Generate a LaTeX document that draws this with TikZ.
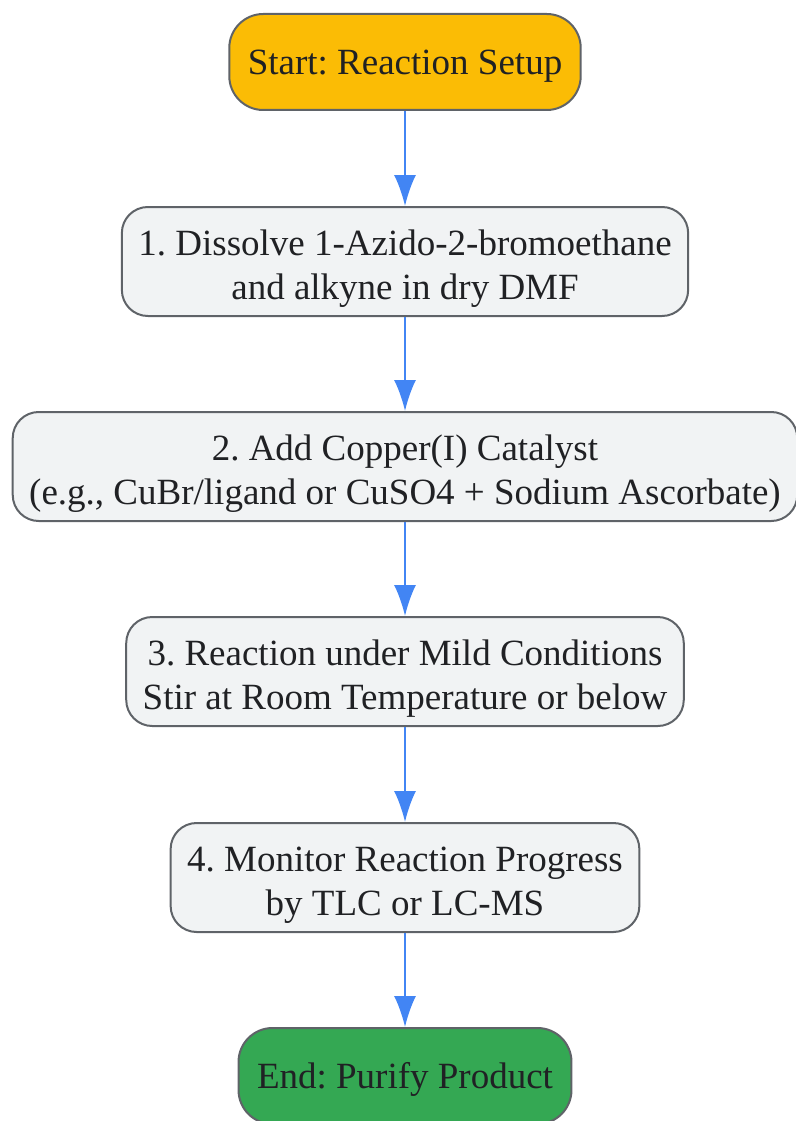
\documentclass[tikz,border=0pt]{standalone}
\usepackage{fontspec}
\setmainfont{Liberation Serif}
\usepackage{tikz}
\usetikzlibrary{positioning,arrows.meta}
\definecolor{startcol}{HTML}{FBBC05}
\definecolor{endcol}{HTML}{34A853}
\definecolor{stepcol}{HTML}{F1F3F4}
\definecolor{bordercol}{HTML}{5F6368}
\definecolor{arrowcol}{HTML}{4285F4}
\definecolor{textcol}{HTML}{202124}
\frenchspacing

\begin{document}
\begin{tikzpicture}[x=1pt,y=1pt,
    base node/.style={draw=bordercol,line width=2pt,text=textcol,align=center,
      font=\fontsize{37}{44}\selectfont,inner xsep=16.5pt,inner ysep=0pt},
    term node/.style={base node,rounded corners=34pt,minimum height=96pt,
      inner xsep=18.5pt,text height=33pt,text depth=8pt},
    step node/.style={base node,fill=stepcol,rounded corners=26pt,minimum height=109pt,
      text height=83pt,text depth=8pt},
    flow/.style={color=arrowcol,line width=2pt,-{Latex[length=31pt,width=22pt]}}]
    \useasboundingbox (0,0) rectangle (795,-1121);

    \node[term node,fill=startcol] (start) at (405,-62) {Start: Reaction Setup};
    \node[step node] (dissolve) [below=95pt of start] {1. Dissolve 1-Azido-2-bromoethane\\and alkyne in dry DMF};
    \node[step node] (catalyst) [below=94pt of dissolve] {2. Add Copper(I) Catalyst\\(e.g., CuBr/ligand or CuSO4 + Sodium Ascorbate)};
    \node[step node] (react) [below=94pt of catalyst] {3. Reaction under Mild Conditions\\Stir at Room Temperature or below};
    \node[step node] (monitor) [below=95pt of react] {4. Monitor Reaction Progress\\by TLC or LC-MS};
    \node[term node,fill=endcol] (end) [below=94pt of monitor] {End: Purify Product};

    \draw[flow] (start) -- (dissolve);
    \draw[flow] (dissolve) -- (catalyst);
    \draw[flow] (catalyst) -- (react);
    \draw[flow] (react) -- (monitor);
    \draw[flow] (monitor) -- (end);
  \end{tikzpicture}
\end{document}
